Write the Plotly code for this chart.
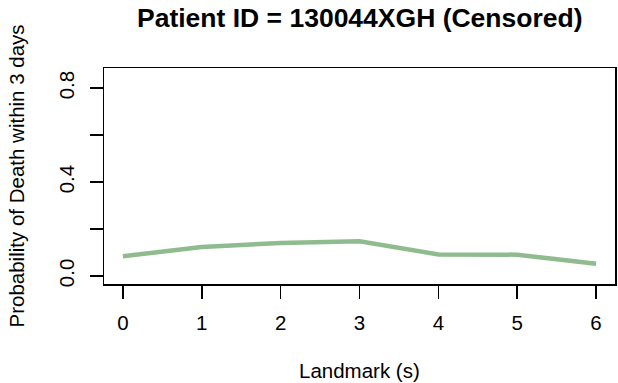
import plotly.graph_objects as go

landmarks = [0, 1, 2, 3, 4, 5, 6]
prob_death = [0.084, 0.124, 0.141, 0.148, 0.092, 0.091, 0.052]
y_tickvals = [0.0, 0.2, 0.4, 0.6, 0.8]
y_ticktext = ["0.0", "", "0.4", "", "0.8"]
x_ticktext = ["0", "1", "2", "3", "4", "5", "6"]

title_text = "Patient ID = 130044XGH (Censored)"
xlab = "Landmark (s)"
ylab = "Probability of Death within 3 days"

FONT = "Liberation Sans, Arial, sans-serif"
FS = 20.5
W, H = 618, 383
L, R, T, B = 104, 1, 68, 99

fig = go.Figure()
fig.add_trace(go.Scatter(
    x=landmarks, y=prob_death, mode="lines",
    line=dict(color="#8FBC8F", width=4.5),
    hoverinfo="skip", showlegend=False,
))

fig.update_layout(
    width=W, height=H,
    margin=dict(l=L, r=R, t=T, b=B, pad=0),
    paper_bgcolor="white", plot_bgcolor="white",
    font=dict(family=FONT, size=FS, color="black"),
    hovermode=False,
    xaxis=dict(
        range=[-0.24, 6.24], tickvals=landmarks, ticktext=x_ticktext,
        ticks="outside", ticklen=13, tickwidth=1.5, tickcolor="black",
        showgrid=False, zeroline=False, showline=True, linecolor="black",
        linewidth=1.5, mirror=True, ticklabelstandoff=7,
    ),
    yaxis=dict(
        range=[-0.034, 0.886], tickvals=y_tickvals, ticktext=y_ticktext,
        tickangle=-90,
        ticks="outside", ticklen=13, tickwidth=1.5, tickcolor="black",
        showgrid=False, zeroline=False, showline=True, linecolor="black",
        linewidth=1.5, mirror=True, ticklabelstandoff=7,
    ),
    annotations=[
        dict(text="<b>" + title_text + "</b>", xref="paper", yref="paper",
             x=0.5, y=1, yshift=50, xanchor="center", yanchor="middle",
             showarrow=False, font=dict(size=26.5, family=FONT)),
        dict(text=xlab, xref="paper", yref="paper",
             x=0.5, y=0, yshift=-86, xanchor="center", yanchor="middle",
             showarrow=False, font=dict(size=FS, family=FONT)),
        dict(text=ylab, xref="paper", yref="paper", textangle=-90,
             x=0, y=0.5, xshift=-88.5, xanchor="center", yanchor="middle",
             showarrow=False, font=dict(size=FS, family=FONT)),
    ],
)

fig.write_html(
    "out.html",
    config={"displayModeBar": False, "staticPlot": True},
    post_script="document.body.style.margin='0';document.body.style.padding='0';",
)
